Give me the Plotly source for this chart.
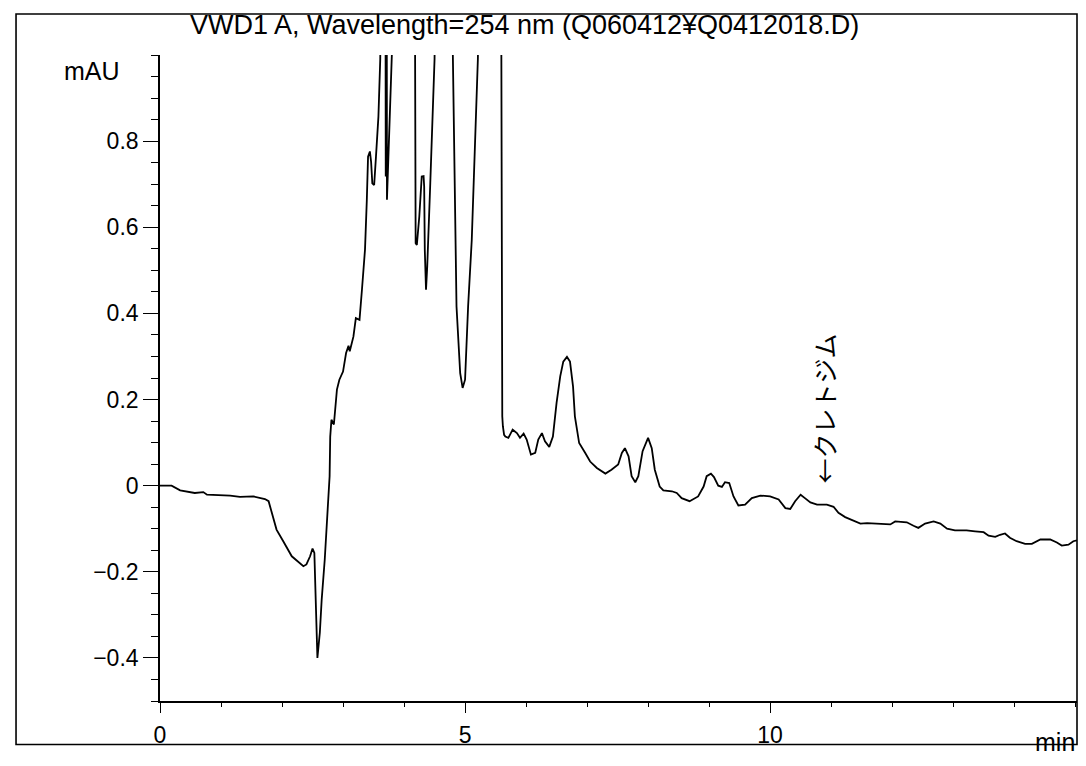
import plotly.graph_objects as go

# Retention time (min) and absorbance (mAU)
time_min = [
    0.00, 0.19, 0.33, 0.57, 0.71, 0.77, 1.15, 1.31, 1.53, 1.72, 1.78, 1.83, 1.91, 2.02, 2.16,
    2.35, 2.40, 2.46, 2.50, 2.53, 2.56, 2.58, 2.62, 2.65, 2.70, 2.74, 2.78, 2.79, 2.81, 2.85,
    2.90, 2.94, 3.00, 3.05, 3.09, 3.11, 3.17, 3.21, 3.27, 3.31, 3.36, 3.39, 3.41, 3.44, 3.46,
    3.48, 3.51, 3.54, 3.58, 3.61, 3.63, 3.695, 3.70, 3.705, 3.715, 3.72, 3.80, 3.84,
    4.14, 4.18, 4.19, 4.21, 4.25, 4.29, 4.32, 4.33, 4.34, 4.36, 4.38, 4.43, 4.50, 4.53,
    4.76, 4.80, 4.86, 4.92, 4.96, 5.00, 5.05, 5.11, 5.16, 5.21, 5.25,
    5.57, 5.595, 5.60, 5.61, 5.62, 5.64, 5.66, 5.71, 5.78, 5.85, 5.90, 5.96, 6.01, 6.08, 6.15,
    6.20, 6.26, 6.31, 6.38, 6.44, 6.50, 6.56, 6.61, 6.67, 6.72, 6.77, 6.80, 6.87, 6.97, 7.05,
    7.16, 7.30, 7.40, 7.51, 7.57, 7.62, 7.68, 7.73, 7.79, 7.84, 7.91, 8.00, 8.06, 8.11, 8.19,
    8.25, 8.39, 8.47, 8.55, 8.68, 8.82, 8.91, 8.96, 9.03, 9.08, 9.15, 9.21, 9.26, 9.33, 9.40,
    9.48, 9.59, 9.70, 9.84, 10.00, 10.14, 10.25, 10.33, 10.41, 10.50, 10.57, 10.66, 10.77,
    10.93, 11.04, 11.12, 11.23, 11.34, 11.48, 11.59, 11.86, 11.97, 12.05, 12.24, 12.35, 12.43,
    12.54, 12.68, 12.79, 12.90, 13.03, 13.22, 13.36, 13.50, 13.58, 13.69, 13.77, 13.85, 13.93,
    14.04, 14.18, 14.29, 14.43, 14.59, 14.70, 14.78, 14.89, 14.97, 15.03,
]
absorbance_mau = [
    0.000, 0.000, -0.011, -0.017, -0.015, -0.021, -0.023, -0.026, -0.025, -0.031, -0.036, -0.063, -0.102, -0.129, -0.164,
    -0.187, -0.183, -0.164, -0.146, -0.156, -0.280, -0.400, -0.341, -0.265, -0.172, -0.071, 0.022, 0.114, 0.153, 0.142,
    0.223, 0.246, 0.265, 0.308, 0.325, 0.312, 0.346, 0.389, 0.385, 0.455, 0.548, 0.664, 0.764, 0.776, 0.752,
    0.702, 0.698, 0.764, 0.857, 0.990, 1.300, 1.300, 0.718, 1.300, 1.300, 0.664, 1.000, 1.400,
    1.400, 1.050, 0.563, 0.559, 0.625, 0.718, 0.719, 0.694, 0.548, 0.455, 0.509, 0.702, 0.990, 1.400,
    1.400, 1.000, 0.416, 0.261, 0.227, 0.246, 0.416, 0.571, 0.800, 0.990, 1.400,
    1.400, 1.000, 0.385, 0.161, 0.138, 0.118, 0.114, 0.111, 0.130, 0.122, 0.111, 0.121, 0.107, 0.072, 0.076,
    0.107, 0.122, 0.103, 0.090, 0.114, 0.192, 0.254, 0.288, 0.299, 0.288, 0.230, 0.161, 0.099, 0.076, 0.056,
    0.041, 0.028, 0.037, 0.049, 0.076, 0.087, 0.068, 0.022, 0.008, 0.022, 0.080, 0.111, 0.087, 0.037, -0.002,
    -0.011, -0.013, -0.017, -0.029, -0.036, -0.025, -0.002, 0.022, 0.028, 0.020, 0.000, -0.003, 0.008, 0.006, -0.025,
    -0.046, -0.044, -0.029, -0.023, -0.025, -0.032, -0.052, -0.054, -0.036, -0.021, -0.029, -0.039, -0.044,
    -0.044, -0.049, -0.063, -0.073, -0.079, -0.088, -0.087, -0.088, -0.090, -0.083, -0.085, -0.093, -0.098,
    -0.088, -0.083, -0.088, -0.100, -0.104, -0.104, -0.106, -0.108, -0.116, -0.119, -0.114, -0.111, -0.121,
    -0.129, -0.135, -0.135, -0.125, -0.125, -0.132, -0.139, -0.137, -0.129, -0.127,
]

x_tick_vals = [0, 5, 10]
y_tick_vals = [-0.4, -0.2, 0, 0.2, 0.4, 0.6, 0.8]
y_tick_text = ["\u22120.4", "\u22120.2", "0", "0.2", "0.4", "0.6", "0.8"]

title_text = "VWD1 A, Wavelength=254 nm (Q060412\u00a5Q0412018.D)"
peak_label = "\u2190\u30af\u30ec\u30c8\u30b8\u30e0"
peak_label_time = 10.89
peak_label_value = 0.18

FONT = "Liberation Sans, Arial, Helvetica, sans-serif"

fig = go.Figure()
fig.add_trace(go.Scatter(
    x=time_min, y=absorbance_mau, mode="lines",
    line=dict(color="black", width=1.8), showlegend=False, hoverinfo="skip",
))

fig.update_layout(
    width=1086, height=766,
    margin=dict(l=160, r=9, t=55, b=64.5, pad=0),
    paper_bgcolor="white", plot_bgcolor="white",
    font=dict(family=FONT, size=23, color="black"),
    showlegend=False,
)

fig.update_xaxes(
    range=[0, 15.03], showgrid=False, zeroline=False,
    showline=True, linecolor="black", linewidth=1.6,
    tickmode="array", tickvals=x_tick_vals,
    ticks="outside", ticklen=10, tickwidth=1.4, tickcolor="black",
    ticklabelstandoff=3,
    minor=dict(dtick=1, ticks="outside", ticklen=4, tickwidth=1.2, tickcolor="black", showgrid=False),
    tickfont=dict(size=23, family=FONT),
)
fig.update_yaxes(
    range=[-0.5, 1.0], showgrid=False, zeroline=False,
    showline=True, linecolor="black", linewidth=1.6,
    tickmode="array", tickvals=y_tick_vals, ticktext=y_tick_text,
    ticks="outside", ticklen=15, tickwidth=1.4, tickcolor="black",
    minor=dict(dtick=0.05, tick0=0, ticks="outside", ticklen=7, tickwidth=1.2, tickcolor="black", showgrid=False),
    tickfont=dict(size=23, family=FONT),
)

# outer frame
fig.add_shape(type="rect", xref="paper", yref="paper",
              x0=-0.157, x1=1.0, y0=-0.0673, y1=1.0634,
              line=dict(color="black", width=1.6), fillcolor="rgba(0,0,0,0)", layer="above")

annotations = [
    dict(text=title_text, xref="paper", yref="paper", x=0.3975, y=1.047,
         xanchor="center", yanchor="middle", showarrow=False,
         font=dict(size=27, family=FONT)),
    dict(text="mAU", xref="paper", yref="paper", x=-0.0747, y=0.976,
         xanchor="center", yanchor="middle", showarrow=False,
         font=dict(size=25, family=FONT)),
    dict(text="min", xref="paper", yref="paper", x=1.0, y=-0.064,
         xanchor="right", yanchor="middle", showarrow=False,
         font=dict(size=25, family=FONT)),
    dict(text=peak_label, xref="x", yref="y", x=peak_label_time, y=peak_label_value,
         xanchor="center", yanchor="middle", showarrow=False, textangle=-90,
         font=dict(size=25, family="Noto Sans CJK JP")),
]
fig.update_layout(annotations=annotations)

fig.write_html("out.html")
